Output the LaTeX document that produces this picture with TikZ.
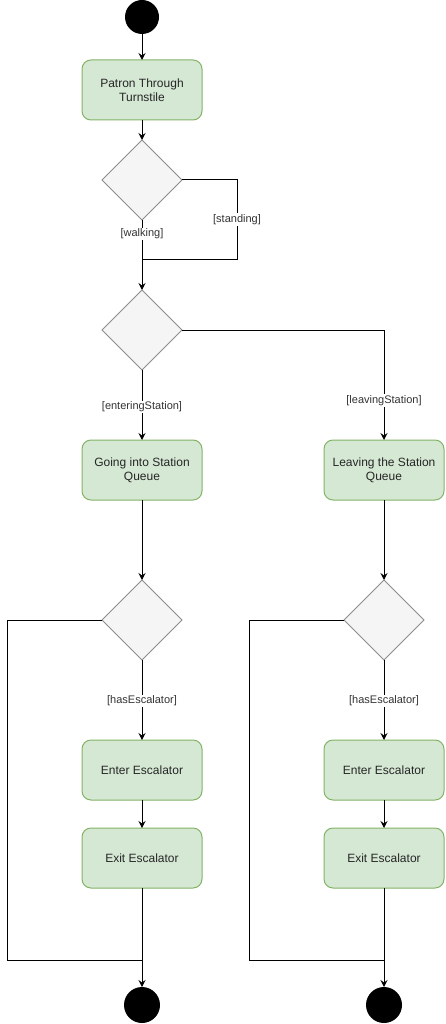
\documentclass[tikz,border=0pt]{standalone}
\usepackage{fontspec}
\setmainfont{Liberation Sans}
\usetikzlibrary{arrows.meta,shapes.geometric}
\definecolor{boxfill}{HTML}{D5E8D4}
\definecolor{boxline}{HTML}{82B366}
\definecolor{dfill}{HTML}{F5F5F5}
\definecolor{dline}{HTML}{8C8C8C}
\begin{document}
\begin{tikzpicture}[x=1pt,y=-1pt,
  act/.style={draw=boxline,fill=boxfill,line width=1pt,rounded corners=9pt,minimum width=120pt,minimum height=60pt,align=center,font=\fontsize{12}{14}\selectfont,text=black!85,inner sep=0pt,outer sep=0pt},
  dec/.style={diamond,draw=dline,fill=dfill,line width=0.8pt,minimum width=80pt,minimum height=80pt,inner sep=0pt,outer sep=0pt},
  term/.style={circle,fill=black,minimum size=#1,inner sep=0pt,outer sep=0pt},
  flow/.style={draw=black,line width=1pt,-{Stealth[length=7pt,width=7pt,inset=2.5pt]}},
  plain/.style={draw=black,line width=1pt},
  lbl/.style={fill=white,font=\fontsize{11}{13}\selectfont,text=black!80,inner sep=1pt}]
\useasboundingbox (0,0) rectangle (445,1024);

\node[term=34pt] (s) at (142,17) {};
\node[act] (a1) at (142,90) {Patron Through\\Turnstile};
\node[dec] (d1) at (142,180) {};
\node[dec] (d2) at (142,330) {};
\node[act] (b2) at (142,470) {Going into Station\\Queue};
\node[act] (b3) at (384,470) {Leaving the Station\\Queue};
\node[dec] (d3) at (142,620) {};
\node[dec] (d4) at (384,620) {};
\node[act] (e1) at (142,770) {Enter Escalator};
\node[act] (x1) at (142,858) {Exit Escalator};
\node[act] (e2) at (384,770) {Enter Escalator};
\node[act] (x2) at (384,858) {Exit Escalator};
\node[term=36pt] (end1) at (142,1005) {};
\node[term=36pt] (end2) at (384,1005) {};

\coordinate (m1) at (142,259);
\coordinate (m2) at (142,960);
\coordinate (m3) at (384,960);

\draw[flow] (s) -- (a1);
\draw[flow] (a1) -- (d1);
\draw[flow] (d1) -- node[lbl,pos=0.2] {[walking]} (d2);
\draw[plain] (d1.east) -- (237,180) -- node[lbl] {[standing]} (237,259) -- (m1);
\draw[flow] (d2) -- node[lbl,pos=0.53] {[enteringStation]} (b2);
\draw[flow] (d2.east) -| node[lbl,pos=0.82] {[leavingStation]} (b3.north);
\draw[flow] (b2) -- (d3);
\draw[flow] (b3) -- (d4);
\draw[flow] (d3) -- node[lbl,pos=0.51] {[hasEscalator]} (e1);
\draw[flow] (d4) -- node[lbl,pos=0.51] {[hasEscalator]} (e2);
\draw[flow] (e1) -- (x1);
\draw[flow] (e2) -- (x2);
\draw[flow] (x1) -- (end1);
\draw[flow] (x2) -- (end2);
\draw[plain] (d3.west) -- (7,620) -- (7,960) -- (m2);
\draw[plain] (d4.west) -- (249,620) -- (249,960) -- (m3);
\end{tikzpicture}
\end{document}
